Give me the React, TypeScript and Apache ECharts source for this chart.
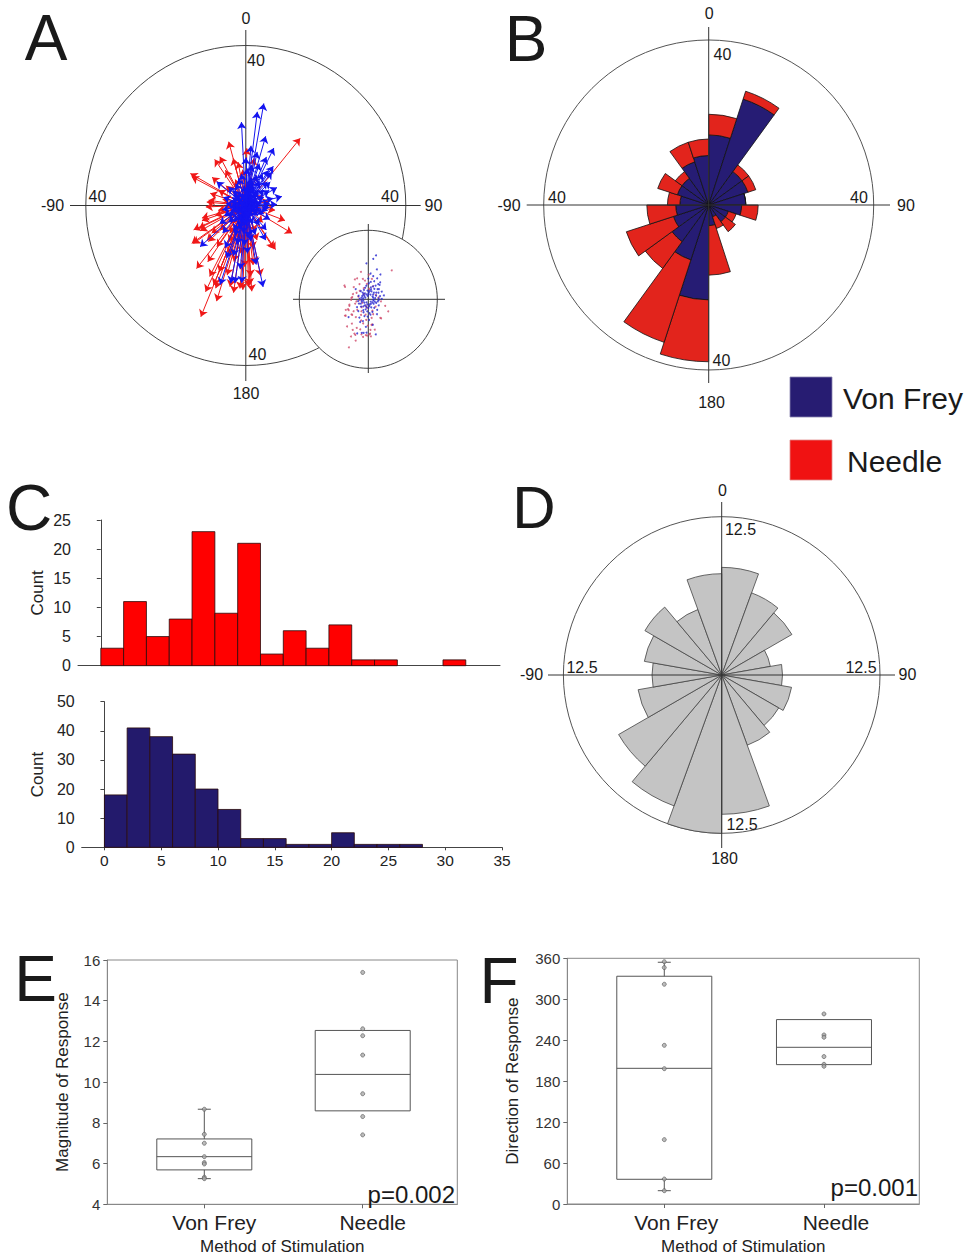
import React, { useEffect, useRef } from "react";
import * as echarts from "echarts";

// ---------- Panel A: response vectors [direction (deg, 0 = up, clockwise), magnitude] ----------
const needleVectors: [number, number][] = [
  [39, 21.6], [345, 16.5], [1, 14.3], [300, 16], [298, 15.3], [332, 13.8], [345, 12.2], [326, 13.9],
  [330, 10.2], [289, 9.4], [275, 9.8], [278, 9.4], [299, 7.8], [111, 10.5], [121, 13.5], [99, 7.4],
  [147, 12.8], [146, 13.3], [202, 30], [205, 23.8], [200, 22], [182, 21.1], [176, 21.5], [177, 19.9],
  [173, 15], [171, 14.7], [162, 9.1], [235, 16.5], [245, 14.4], [244, 13.1], [254, 11.4], [251, 11.6],
  [241, 13], [234, 16.2], [231, 11], [226, 13], [228, 13.1], [215, 12.6], [199, 13], [192, 14.3],
  [202, 17.9], [207, 19.9], [202, 21.5], [191, 20.7], [184, 20.8], [178, 20.3], [176, 17.8], [181, 15.3],
  [226, 8.9], [10, 12], [355, 9], [20, 8], [60, 5], [80, 6], [135, 6], [160, 7], [190, 9], [210, 8],
  [220, 6], [260, 7], [265, 5], [285, 6], [315, 7], [190, 5], [200, 4], [240, 4], [320, 4], [170, 11],
  [186, 12], [195, 18], [214, 17], [205, 10], [168, 18], [252, 8], [268, 10], [310, 11], [338, 7],
  [5, 6], [350, 11], [197, 25], [188, 22], [218, 20]
];
const vonFreyVectors: [number, number][] = [
  [10, 25.9], [7, 23.6], [357, 20.9], [12, 13.7], [23, 13.2], [33, 10.5], [8, 10.2], [38, 10.6],
  [46, 8.5], [76, 9.3], [88, 7.8], [317, 6.4], [309, 9.4], [228, 15.4], [206, 11.8], [198, 20.8],
  [191, 19.8], [188, 19.6], [183, 19.4], [168, 20.8], [162, 7.7], [2, 9.3], [103, 5.6], [57, 7],
  [20, 8], [15, 6], [30, 7], [50, 6], [65, 5], [80, 4], [95, 6], [115, 5], [130, 4], [145, 6],
  [160, 5], [175, 8], [185, 7], [195, 6], [205, 7], [215, 5], [225, 6], [240, 5], [250, 4], [260, 6],
  [275, 5], [290, 6], [300, 4], [320, 5], [335, 6], [345, 7], [355, 5], [5, 4], [25, 3], [45, 4],
  [70, 3], [100, 3], [125, 3], [150, 3], [170, 4], [190, 3], [210, 4], [230, 3], [255, 3], [280, 3],
  [310, 3], [340, 3], [350, 2], [10, 5], [40, 5], [60, 9], [35, 12], [18, 11], [178, 12], [193, 10],
  [200, 14], [170, 15], [185, 16], [220, 9], [235, 8], [195, 4.5], [0, 3], [315, 4], [120, 7], [140, 8],
  [150, 10], [28, 9], [42, 8], [85, 6], [110, 4], [180, 5], [200, 8], [245, 6], [265, 4], [285, 4],
  [330, 4], [352, 8], [12, 7], [22, 5], [55, 3], [75, 7], [95, 3], [135, 2], [165, 3], [210, 2],
  [300, 2], [26, 16], [16, 18], [182, 10], [172, 9], [0, 12], [5, 15], [194, 13]
];

// ---------- Panel B: rose (18 degree bins), counts stacked ----------
const roseBins = ["0", "18", "36", "54", "72", "90", "108", "126", "144", "162",
  "180", "198", "216", "234", "252", "270", "288", "306", "324", "342"];
const roseVonFrey = [17, 27, 10, 10, 9, 8, 5, 5, 3, 5, 23, 14, 11, 9, 8, 7, 8, 8, 11, 12];
const roseNeedle = [5, 2, 2, 2, 0, 4, 2, 3, 3, 12, 15, 21, 8, 12, 7, 3, 5, 2, 5, 4];

// ---------- Panel C: magnitude histograms (bin width 2) ----------
const histBinStarts = [0, 2, 4, 6, 8, 10, 12, 14, 16, 18, 20, 22, 24, 26, 28, 30];
const needleCounts = [3, 11, 5, 8, 23, 9, 21, 2, 6, 3, 7, 1, 1, 0, 0, 1];
const vonFreyCounts = [18, 41, 38, 32, 20, 13, 3, 3, 1, 1, 5, 1, 1, 1];
const histXTicks = [0, 5, 10, 15, 20, 25, 30, 35];

// ---------- Panel D: combined rose (20 degree bins) ----------
const dBins = ["0", "20", "40", "60", "80", "100", "120", "140", "160",
  "180", "200", "220", "240", "260", "280", "300", "320", "340"];
const dValues = [8.5, 6.9, 6.4, 3.9, 4.8, 5.6, 5.2, 5.9, 11, 12.5, 11, 9.4, 6.7, 5.5, 6.2, 7, 5.5, 8];

// ---------- Panels E/F: box plots ----------
const methods = ["Von Frey", "Needle"];
// [q1, median, q3, lowerWhisker, upperWhisker]
const magnitudeBoxes: (number | null)[][] = [
  [5.69, 6.34, 7.21, 5.26, 8.67],
  [8.59, 10.38, 12.54, null, null]
];
const magnitudePointsVonFrey = [8.67, 7.44, 7.0, 6.34, 6.05, 5.98, 5.33, 5.26];
const magnitudePointsNeedle = [15.39, 12.62, 12.28, 11.33, 9.43, 8.31, 7.41];
const directionBoxes: (number | null)[][] = [
  [36.2, 198.8, 333.7, 19.5, 354.2],
  [204.2, 229.6, 270.2, null, null]
];
const directionPointsVonFrey = [355, 346.4, 322, 232.5, 198.3, 94.3, 36.6, 19.5];
const directionPointsNeedle = [278.5, 247.7, 244.3, 216, 204.7, 201.8];

const FONT = "'Liberation Sans', Arial, sans-serif";
const RED_ARROW = "#f01818";
const BLUE_ARROW = "#1414f0";
const NAVY = "#261c74";
const ROSE_RED = "#e2241c";

function toXY(v: [number, number]): [number, number] {
  const a = (v[0] * Math.PI) / 180;
  return [v[1] * Math.sin(a), v[1] * Math.cos(a)];
}

function txt(text: string, x: number, y: number, fontSize = 16, align = "center", z = 30) {
  return {
    type: "text", x, y, z,
    style: { text, fontSize, fontFamily: FONT, fill: "#1a1a1a", align, verticalAlign: "middle" }
  };
}
function ln(x1: number, y1: number, x2: number, y2: number, z = 1, color = "#333") {
  return { type: "line", z, shape: { x1, y1, x2, y2 }, style: { stroke: color, lineWidth: 1 } };
}

function boxRender(params: any, api: any) {
  const x = api.value(0);
  const q1 = api.value(1), med = api.value(2), q3 = api.value(3), lo = api.value(4), hi = api.value(5);
  const hw = 47.5;
  const pQ3 = api.coord([x, q3]);
  const pQ1 = api.coord([x, q1]);
  const pMed = api.coord([x, med]);
  const stroke = { stroke: "#555", lineWidth: 1, fill: "none" };
  const children: any[] = [
    { type: "rect", shape: { x: pQ3[0] - hw, y: pQ3[1], width: hw * 2, height: pQ1[1] - pQ3[1] }, style: { ...stroke, fill: "rgba(0,0,0,0)" } },
    { type: "line", shape: { x1: pMed[0] - hw, y1: pMed[1], x2: pMed[0] + hw, y2: pMed[1] }, style: stroke }
  ];
  if (lo < q1) {
    const pLo = api.coord([x, lo]);
    children.push({ type: "line", shape: { x1: pLo[0], y1: pLo[1], x2: pQ1[0], y2: pQ1[1] }, style: stroke });
    children.push({ type: "line", shape: { x1: pLo[0] - 6.5, y1: pLo[1], x2: pLo[0] + 6.5, y2: pLo[1] }, style: stroke });
  }
  if (hi > q3) {
    const pHi = api.coord([x, hi]);
    children.push({ type: "line", shape: { x1: pHi[0], y1: pHi[1], x2: pQ3[0], y2: pQ3[1] }, style: stroke });
    children.push({ type: "line", shape: { x1: pHi[0] - 6.5, y1: pHi[1], x2: pHi[0] + 6.5, y2: pHi[1] }, style: stroke });
  }
  return { type: "group", children };
}

function histRender(color: string) {
  return (params: any, api: any) => {
    const c = api.value(2);
    if (!c) return null;
    const p0 = api.coord([api.value(0), c]);
    const p1 = api.coord([api.value(1), 0]);
    return {
      type: "rect",
      shape: { x: p0[0], y: p0[1], width: p1[0] - p0[0], height: p1[1] - p0[1] },
      style: { fill: color, stroke: "#2a0a0a", lineWidth: 0.8 }
    };
  };
}

function boxData(boxes: (number | null)[][]) {
  return boxes.map((b, i) => [i + 1, b[0], b[1], b[2], b[3] == null ? b[0] : b[3], b[4] == null ? b[2] : b[4]]);
}

export default function App() {
  const ref = useRef<HTMLDivElement>(null);
  useEffect(() => {
    if (!ref.current) return;
    const chart = echarts.init(ref.current, undefined, { renderer: "svg" });

    const needleXY = needleVectors.map(toXY);
    const vfXY = vonFreyVectors.map(toXY);

    const hiddenVal = (gridIndex: number, min: number, max: number) => ({
      type: "value", gridIndex, min, max, show: false
    });
    const axisGray = { lineStyle: { color: "#444", width: 1 } };

    const boxX = (gridIndex: number, min: number, max: number, shift: number) => ({
      type: "value", gridIndex, min, max,
      axisLine: { show: true, lineStyle: { color: "#888" } },
      axisTick: { show: true, customValues: [1, 2], length: 4, lineStyle: { color: "#666" } },
      axisLabel: {
        show: true, customValues: [1, 2], fontSize: 21, color: "#222", margin: 8,
        padding: [0, 0, 0, shift],
        formatter: (v: number) => methods[Math.round(v) - 1] || ""
      },
      splitLine: { show: false },
      name: "Method of Stimulation", nameLocation: "middle", nameGap: 34,
      nameTextStyle: { fontSize: 17, color: "#222" }
    });
    const boxY = (gridIndex: number, min: number, max: number, interval: number, name: string, nameGap: number, fs: number) => ({
      type: "value", gridIndex, min, max, interval,
      axisLine: { show: true, lineStyle: { color: "#888" } },
      axisTick: { show: true, length: 4, lineStyle: { color: "#666" } },
      axisLabel: { fontSize: fs, color: "#333", margin: 7 },
      splitLine: { show: false },
      name, nameLocation: "middle", nameGap, nameRotate: 90,
      nameTextStyle: { fontSize: 17, color: "#222" }
    });

    const option: any = {
      animation: false,
      textStyle: { fontFamily: FONT },
      grid: [
        { left: 70.8, top: 30.5, width: 350, height: 350 },
        { left: 292.4, top: 223.4, width: 151.8, height: 151.8 },
        { left: 78, top: 520, width: 422, height: 145.7 },
        { left: 81.7, top: 701.7, width: 420.3, height: 145.6 },
        { left: 107.3, top: 960, width: 350, height: 244.3, show: true, borderColor: "#888", borderWidth: 1 },
        { left: 567.3, top: 958.3, width: 352, height: 245.7, show: true, borderColor: "#888", borderWidth: 1 }
      ],
      xAxis: [
        hiddenVal(0, -43.75, 43.75),
        hiddenVal(1, -44, 44),
        {
          type: "value", gridIndex: 2, min: -2, max: 35,
          axisLine: { show: true, onZero: false, ...axisGray },
          axisTick: { show: false }, axisLabel: { show: false }, splitLine: { show: false }
        },
        {
          type: "value", gridIndex: 3, min: -2, max: 35,
          axisLine: { show: true, onZero: false, ...axisGray },
          axisTick: { show: true, customValues: histXTicks, length: 3, lineStyle: { color: "#444" } },
          axisLabel: { show: true, customValues: histXTicks, fontSize: 15.5, color: "#222", margin: 5 },
          splitLine: { show: false }
        },
        boxX(4, 0.3876, 2.5972, 20),
        boxX(5, 0.3926, 2.597, 24)
      ],
      yAxis: [
        hiddenVal(0, -43.75, 43.75),
        hiddenVal(1, -44, 44),
        {
          type: "value", gridIndex: 2, min: 0, max: 25, interval: 5,
          axisLine: { show: true, ...axisGray }, axisTick: { show: true, length: 4, lineStyle: { color: "#444" } },
          axisLabel: { fontSize: 16, color: "#222", margin: 7 }, splitLine: { show: false },
          name: "Count", nameLocation: "middle", nameGap: 32, nameRotate: 90,
          nameTextStyle: { fontSize: 17, color: "#222" }
        },
        {
          type: "value", gridIndex: 3, min: 0, max: 50, interval: 10,
          axisLine: { show: true, ...axisGray }, axisTick: { show: true, length: 4, lineStyle: { color: "#444" } },
          axisLabel: { fontSize: 16, color: "#222", margin: 7 }, splitLine: { show: false },
          name: "Count", nameLocation: "middle", nameGap: 36, nameRotate: 90,
          nameTextStyle: { fontSize: 17, color: "#222" }
        },
        boxY(4, 4, 16, 2, "Magnitude of Response", 36, 15),
        boxY(5, 0, 360, 60, "Direction of Response", 46, 15)
      ],
      polar: [
        { center: [708.7, 205], radius: 165 },
        { center: [721.7, 675], radius: 158.3 }
      ],
      angleAxis: [
        {
          polarIndex: 0, type: "category", data: roseBins, startAngle: 90, clockwise: true,
          axisLine: { show: true, lineStyle: { color: "#555", width: 1 } },
          axisTick: { show: false }, axisLabel: { show: false }, splitLine: { show: false }
        },
        {
          polarIndex: 1, type: "category", data: dBins, startAngle: 90, clockwise: true,
          axisLine: { show: true, lineStyle: { color: "#555", width: 1 } },
          axisTick: { show: false }, axisLabel: { show: false }, splitLine: { show: false }
        }
      ],
      radiusAxis: [
        { polarIndex: 0, type: "value", min: 0, max: 40, axisLine: { show: false }, axisTick: { show: false }, axisLabel: { show: false }, splitLine: { show: false } },
        { polarIndex: 1, type: "value", min: 0, max: 12.5, axisLine: { show: false }, axisTick: { show: false }, axisLabel: { show: false }, splitLine: { show: false } }
      ],
      series: [
        {
          type: "lines", coordinateSystem: "cartesian2d", xAxisIndex: 0, yAxisIndex: 0, z: 3,
          symbol: ["none", "arrow"], symbolSize: 7,
          lineStyle: { color: RED_ARROW, width: 1, opacity: 1 },
          data: needleXY.map((p) => ({ coords: [[0, 0], p] }))
        },
        {
          type: "lines", coordinateSystem: "cartesian2d", xAxisIndex: 0, yAxisIndex: 0, z: 4,
          symbol: ["none", "arrow"], symbolSize: 7,
          lineStyle: { color: BLUE_ARROW, width: 1, opacity: 1 },
          data: vfXY.map((p) => ({ coords: [[0, 0], p] }))
        },
        {
          type: "scatter", xAxisIndex: 1, yAxisIndex: 1, z: 20, symbolSize: 2,
          itemStyle: { color: "#d04a6a" }, data: needleXY
        },
        {
          type: "scatter", xAxisIndex: 1, yAxisIndex: 1, z: 21, symbolSize: 2,
          itemStyle: { color: "#2626d0" }, data: vfXY
        },
        {
          type: "bar", coordinateSystem: "polar", polarIndex: 0, stack: "rose", barCategoryGap: "0%",
          itemStyle: { color: NAVY, borderColor: "#111", borderWidth: 0.8 }, data: roseVonFrey
        },
        {
          type: "bar", coordinateSystem: "polar", polarIndex: 0, stack: "rose", barCategoryGap: "0%",
          itemStyle: { color: ROSE_RED, borderColor: "#111", borderWidth: 0.8 }, data: roseNeedle
        },
        {
          type: "bar", coordinateSystem: "polar", polarIndex: 1, barCategoryGap: "0%",
          itemStyle: { color: "#c4c4c4", borderColor: "#444", borderWidth: 0.8 }, data: dValues
        },
        {
          type: "custom", xAxisIndex: 2, yAxisIndex: 2, renderItem: histRender("#ff0000"),
          encode: { x: [0, 1], y: 2 },
          data: needleCounts.map((c, i) => [histBinStarts[i], histBinStarts[i] + 2, c])
        },
        {
          type: "custom", xAxisIndex: 3, yAxisIndex: 3, renderItem: histRender("#231a6c"),
          encode: { x: [0, 1], y: 2 },
          data: vonFreyCounts.map((c, i) => [histBinStarts[i], histBinStarts[i] + 2, c])
        },
        {
          type: "custom", xAxisIndex: 4, yAxisIndex: 4, renderItem: boxRender,
          encode: { x: 0, y: [1, 2, 3, 4, 5] }, data: boxData(magnitudeBoxes)
        },
        {
          type: "scatter", xAxisIndex: 4, yAxisIndex: 4, symbol: "circle", symbolSize: 4, z: 5,
          itemStyle: { color: "#aaa", borderColor: "#555", borderWidth: 0.8 },
          data: [...magnitudePointsVonFrey.map((v) => [1, v]), ...magnitudePointsNeedle.map((v) => [2, v])]
        },
        {
          type: "custom", xAxisIndex: 5, yAxisIndex: 5, renderItem: boxRender,
          encode: { x: 0, y: [1, 2, 3, 4, 5] }, data: boxData(directionBoxes)
        },
        {
          type: "scatter", xAxisIndex: 5, yAxisIndex: 5, symbol: "circle", symbolSize: 4, z: 5,
          itemStyle: { color: "#aaa", borderColor: "#555", borderWidth: 0.8 },
          data: [...directionPointsVonFrey.map((v) => [1, v]), ...directionPointsNeedle.map((v) => [2, v])]
        }
      ],
      graphic: [
        // Panel A decorations
        { type: "circle", z: 0, shape: { cx: 245.8, cy: 205.5, r: 160 }, style: { fill: "none", stroke: "#444", lineWidth: 1 } },
        ln(70, 205.5, 420.7, 205.5, 1),
        ln(245.8, 30, 245.8, 381, 1),
        { type: "circle", z: 15, shape: { cx: 368.3, cy: 299.3, r: 69 }, style: { fill: "#fff", stroke: "#444", lineWidth: 1 } },
        ln(293, 299.3, 445, 299.3, 16),
        ln(368.3, 224, 368.3, 373, 16),
        txt("0", 246, 18), txt("180", 246, 393), txt("-90", 52.5, 205.5), txt("90", 433.5, 205.5),
        txt("40", 256, 60), txt("40", 97.5, 196), txt("40", 390, 196), txt("40", 257.5, 354),
        // Panel B decorations
        ln(526.7, 205, 890, 205, 10, "#333"),
        ln(708.7, 27, 708.7, 383, 10, "#333"),
        txt("0", 709.3, 13), txt("40", 722.5, 54), txt("-90", 509, 205.5), txt("40", 557, 197),
        txt("40", 859, 197), txt("90", 906, 205.5), txt("40", 721.5, 360), txt("180", 711.5, 402),
        // Panel D decorations
        ln(548, 675, 895, 675, 10, "#333"),
        ln(721.7, 502, 721.7, 848, 10, "#333"),
        txt("0", 722.5, 490), txt("12.5", 740.5, 529), txt("-90", 531.5, 674), txt("12.5", 582, 667),
        txt("12.5", 861, 667), txt("90", 907.5, 674), txt("12.5", 742, 824), txt("180", 724.5, 858),
        // Legend
        { type: "rect", z: 30, shape: { x: 790, y: 377, width: 42, height: 40 }, style: { fill: "#271c72", stroke: "#8a86b0", lineWidth: 0.8 } },
        txt("Von Frey", 843, 398, 30, "left"),
        { type: "rect", z: 30, shape: { x: 790, y: 440, width: 42, height: 40 }, style: { fill: "#f01212", stroke: "#e08a8a", lineWidth: 0.8 } },
        txt("Needle", 847, 461, 30, "left"),
        // p-values
        txt("p=0.002", 455, 1194, 24, "right"),
        txt("p=0.001", 918, 1187, 24, "right"),
        // Panel letters
        txt("A", 46, 38, 64), txt("B", 526, 39, 64), txt("C", 29, 508, 64),
        txt("D", 534, 507, 60), txt("E", 35.5, 979, 64), txt("F", 499, 981, 64)
      ]
    };
    chart.setOption(option);
    return () => chart.dispose();
  }, []);
  return (
    <div
      ref={ref}
      style={{ position: "absolute", left: 0, top: 0, width: 967, height: 1259, background: "#fff" }}
    />
  );
}
